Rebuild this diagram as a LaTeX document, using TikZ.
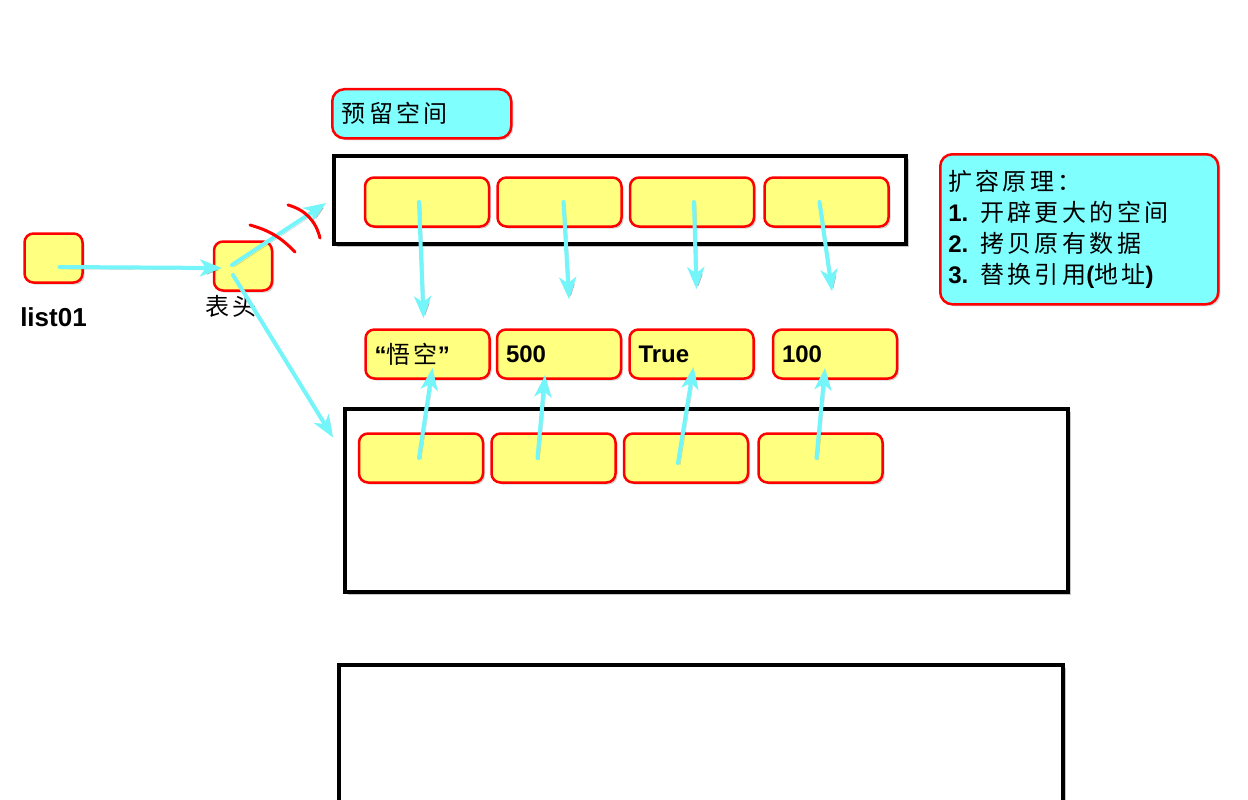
\documentclass[tikz,border=0pt]{standalone}
\usepackage{fontspec}
\setmainfont{Liberation Sans}
\newfontfamily\cjk{Noto Sans CJK SC}[LetterSpace=14]
\usetikzlibrary{positioning, arrows.meta, shadows}
\definecolor{cellyellow}{RGB}{255,255,128}
\definecolor{notecyan}{RGB}{128,255,255}
\definecolor{ptrcyan}{RGB}{115,245,250}
\newcommand{\zh}[1]{{\cjk\mdseries #1}}
\tikzset{
    cell/.style={draw=red, line width=2.5pt, fill=cellyellow, rounded corners=9pt,
        minimum width=124pt, minimum height=49pt, inner sep=0pt,
        text width=106pt, align=left, font=\fontsize{24}{28}\selectfont\bfseries,
        drop shadow={shadow xshift=2pt, shadow yshift=-2pt, opacity=.35}},
    tag/.style={cell, minimum width=58pt, minimum height=49pt, text width=0pt},
    note/.style={draw=red, line width=2.5pt, fill=notecyan, rounded corners=12pt,
        inner sep=0pt, align=left, font=\fontsize{24}{31}\selectfont\bfseries,
        drop shadow={shadow xshift=2pt, shadow yshift=-2pt, opacity=.3}},
    frame/.style={draw=black, line width=4pt, fill=white, inner sep=0pt,
        drop shadow={shadow xshift=3pt, shadow yshift=-3pt, opacity=.45}},
    ptr/.style={draw=ptrcyan, line width=4pt, line cap=round,
        -{Stealth[length=22pt, width=17pt, inset=6pt]},
        preaction={draw=black, opacity=.22, transform canvas={shift={(2pt,-2pt)}}}},
    cut/.style={draw=red, line width=3pt, line cap=round},
}
\begin{document}
\begin{tikzpicture}[x=1pt, y=-1pt]
    \useasboundingbox (0,0) rectangle (1248,800);

    % memory blocks
    \node[frame, minimum width=572pt, minimum height=88pt] (old) at (620,200) {};
    \node[frame, minimum width=723pt, minimum height=183pt] (new) at (706.5,500.5) {};
    \node[frame, minimum width=724pt, minimum height=195pt] (newer) at (701,762.5) {};

    % notes
    \node[note, anchor=north west, minimum width=179pt, minimum height=49pt,
        text width=160pt] (reserve) at (331,88) {\zh{预留空间}};
    \node[note, anchor=north west, minimum width=278pt, minimum height=150pt,
        text width=262pt] (principle) at (939,153)
        {\zh{扩容原理：}\\
         1. \zh{开辟更大的空间}\\
         2. \zh{拷贝原有数据}\\
         3. \zh{替换引用}(\zh{地址})};

    % variable and list head
    \node[tag] (l01) at (53.5,258) {};
    \node[font=\fontsize{26}{30}\selectfont\bfseries, below=20pt of l01] (l01lbl) {list01};
    \node[tag] (head) at (243,266) {};
    \node[font=\cjk\fontsize{24}{28}\selectfont, anchor=north, inner sep=0pt]
        (headlbl) at ([xshift=-12pt, yshift=-3pt]head.south) {表头};

    % old slots
    \node[cell] (t1) at (427,202) {};
    \node[cell, right=6pt of t1] (t2) {};
    \node[cell, right=6pt of t2] (t3) {};
    \node[cell, right=8pt of t3] (t4) {};

    % values
    \node[cell] (v1) at (427.5,354) {“\zh{悟空}”};
    \node[cell, right=5pt of v1] (v2) {500};
    \node[cell, right=6pt of v2] (v3) {True};
    \node[cell, right=17pt of v3] (v4) {100};

    % new slots
    \node[cell] (b1) at (421,458) {};
    \node[cell, right=6pt of b1] (b2) {};
    \node[cell, right=6pt of b2] (b3) {};
    \node[cell, right=8pt of b3] (b4) {};

    % references
    \draw[ptr] ([xshift=6pt, yshift=-9pt]l01.center) -- ([xshift=-21pt, yshift=-2pt]head.center);
    \draw[ptr] ([xshift=-11pt, yshift=1pt]head.center) -- ([xshift=-6pt, yshift=-3pt]old.west);
    \draw[ptr] ([xshift=-10pt, yshift=-9pt]head.center) -- ([xshift=-10pt, yshift=63pt]new.west);

    \draw[ptr] ([xshift=-8pt]t1.center) -- ([xshift=-4pt, yshift=10pt]v1.north);
    \draw[ptr] ([xshift=4pt]t2.center) -- ([xshift=10pt, yshift=29pt]v2.north);
    \draw[ptr] ([xshift=2pt]t3.center) -- ([xshift=5pt, yshift=39pt]v3.north);
    \draw[ptr] ([xshift=-7pt]t4.center) -- ([xshift=-3pt, yshift=37pt]v4.north);

    \draw[ptr] ([xshift=-2pt]b1.center) -- ([xshift=5pt, yshift=-14pt]v1.center);
    \draw[ptr] ([xshift=-16pt]b2.center) -- ([xshift=-14pt, yshift=-21pt]v2.center);
    \draw[ptr] ([xshift=-8pt, yshift=-5pt]b3.center) -- ([xshift=2pt, yshift=-13pt]v3.center);
    \draw[ptr] ([xshift=-4pt]b4.center) -- ([xshift=-10pt, yshift=-14pt]v4.center);

    % cut marks on the old reference
    \draw[cut] (250,225) to[bend left=15] (295,252);
    \draw[cut] (288,205) to[bend left=30] (320,238);
\end{tikzpicture}
\end{document}
